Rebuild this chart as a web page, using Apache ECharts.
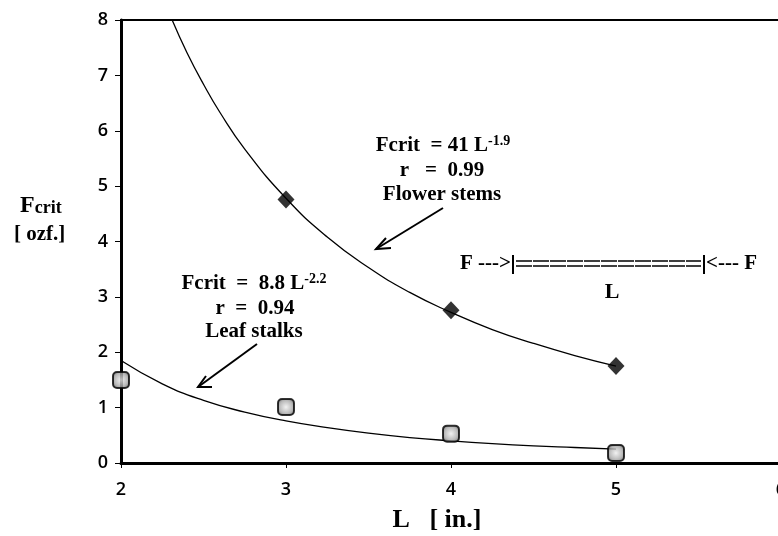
<!DOCTYPE html>
<html><head><meta charset="utf-8">
<script src="https://cdn.jsdelivr.net/npm/echarts@6/dist/echarts.min.js"></script>
<style>html,body{margin:0;padding:0;background:#fff}#c{width:778px;height:536px}</style>
</head><body><div id="c"></div>
<script>
// Measured points
var flowerX = [3, 4, 5];
var flowerY = [4.76, 2.76, 1.75];
var leafX = [2, 3, 4, 5];
var leafY = [1.50, 1.01, 0.53, 0.18];
// Trend curves
var flowerCurveX = [2.31, 2.4, 2.5, 2.6, 2.75, 3, 3.25, 3.5, 3.75, 4, 4.25, 4.5, 4.75, 5];
var flowerCurveY = [8.0, 7.41, 6.84, 6.33, 5.67, 4.78, 4.08, 3.53, 3.08, 2.72, 2.41, 2.16, 1.94, 1.75];
var leafCurveX = [2, 2.25, 2.5, 2.75, 3, 3.25, 3.5, 3.75, 4, 4.25, 4.5, 4.75, 5];
var leafCurveY = [1.85, 1.43, 1.13, 0.92, 0.76, 0.64, 0.54, 0.46, 0.40, 0.35, 0.31, 0.28, 0.25];
var xTicks = [2, 3, 4, 5, 6];
var yTicks = [0, 1, 2, 3, 4, 5, 6, 7, 8];

function pairs(xs, ys){ return xs.map(function(x,i){return [x, ys[i]];}); }

var chart = echarts.init(document.getElementById('c'));
var serif = '"Liberation Serif", "DejaVu Serif", serif';
var sans = '"Open Sans", "Liberation Sans", sans-serif';
var tStyle = {fontFamily: serif, fontWeight: 'bold', fontSize: 21, fill: '#000'};
var rich = {
  m: {fontFamily: serif, fontWeight: 'bold', fontSize: 21, fill: '#000'},
  s: {fontFamily: serif, fontWeight: 'bold', fontSize: 14, fill: '#000', padding: [0,0,10,0]}
};

chart.setOption({
  animation: false,
  backgroundColor: '#fff',
  grid: {left: 121, top: 20, width: 660, height: 443, outerBoundsMode: 'none', containLabel: false,
         show: true, borderColor: '#000', borderWidth: 2},
  xAxis: {
    type: 'value', min: xTicks[0], max: xTicks[xTicks.length-1], interval: 1,
    axisLine: {show: true, lineStyle: {color: '#000', width: 3}},
    axisTick: {show: true, length: 5, lineStyle: {color: '#000'}},
    axisLabel: {color: '#000', fontFamily: sans, fontSize: 18, fontWeight: 600, margin: 18},
    splitLine: {show: false}
  },
  yAxis: {
    type: 'value', min: yTicks[0], max: yTicks[yTicks.length-1], interval: 1,
    axisLine: {show: true, lineStyle: {color: '#000', width: 3}},
    axisTick: {show: true, length: 6, lineStyle: {color: '#000'}},
    axisLabel: {color: '#000', fontFamily: sans, fontSize: 18, fontWeight: 600, margin: 13},
    splitLine: {show: false}
  },
  series: [
    {type: 'line', data: pairs(flowerCurveX, flowerCurveY), smooth: true, showSymbol: false,
     lineStyle: {color: '#000', width: 1.3}, z: 2},
    {type: 'line', data: pairs(leafCurveX, leafCurveY), smooth: true, showSymbol: false,
     lineStyle: {color: '#000', width: 1.3}, z: 2},
    {type: 'scatter', data: pairs(flowerX, flowerY), symbol: 'diamond', symbolSize: [17, 18],
     itemStyle: {color: '#000'}, z: 3},
    {type: 'scatter', data: pairs(leafX, leafY), symbol: 'roundRect', symbolSize: 16,
     itemStyle: {color: {type: 'radial', x: 0.5, y: 0.5, r: 0.6,
       colorStops: [{offset: 0, color: '#eeeeee'}, {offset: 0.6, color: '#aaaaaa'}, {offset: 1, color: '#555'}]},
       borderColor: '#000', borderWidth: 2}, z: 3}
  ],
  graphic: [
    // y axis title
    {type: 'text', left: 20, top: 194, style: {text: '{a|F}{b|crit}', rich: {
      a: {fontFamily: serif, fontWeight: 'bold', fontSize: 24, fill: '#000'},
      b: {fontFamily: serif, fontWeight: 'bold', fontSize: 18, fill: '#000', padding: [4,0,0,0]}}}},
    {type: 'text', left: 14, top: 224, style: {text: '[ ozf.]', fontFamily: serif, fontWeight: 'bold', fontSize: 21, fill: '#000'}},
    // x axis title
    {type: 'text', x: 437, y: 520, style: {text: 'L   [ in.]', fontFamily: serif, fontWeight: 'bold', fontSize: 26, fill: '#000', align: 'center', verticalAlign: 'middle'}},
    // flower annotation
    {type: 'text', x: 443, y: 146, style: {text: '{m|Fcrit  = 41 L}{s|-1.9}', align: 'center', verticalAlign: 'middle', rich: rich}},
    {type: 'text', x: 442, y: 171, style: Object.assign({text: 'r   =  0.99', align: 'center', verticalAlign: 'middle'}, tStyle)},
    {type: 'text', x: 442, y: 195, style: Object.assign({text: 'Flower stems', align: 'center', verticalAlign: 'middle'}, tStyle)},
    // leaf annotation
    {type: 'text', x: 254, y: 284, style: {text: '{m|Fcrit  =  8.8 L}{s|-2.2}', align: 'center', verticalAlign: 'middle', rich: rich}},
    {type: 'text', x: 255, y: 309, style: Object.assign({text: 'r  =  0.94', align: 'center', verticalAlign: 'middle'}, tStyle)},
    {type: 'text', x: 254, y: 332, style: Object.assign({text: 'Leaf stalks', align: 'center', verticalAlign: 'middle'}, tStyle)},
    // arrows
    {type: 'line', shape: {x1: 443, y1: 208, x2: 376, y2: 249}, style: {stroke: '#000', lineWidth: 2}},
    {type: 'polyline', shape: {points: [[386, 238], [376, 249], [391, 248]]}, style: {stroke: '#000', lineWidth: 2, fill: null}},
    {type: 'line', shape: {x1: 257, y1: 344, x2: 198, y2: 387}, style: {stroke: '#000', lineWidth: 2}},
    {type: 'polyline', shape: {points: [[206, 376], [198, 387], [212, 387]]}, style: {stroke: '#000', lineWidth: 2, fill: null}},
    // F ---> |====| <--- F diagram
    {type: 'text', x: 511, y: 264, style: {text: 'F --->', fontFamily: serif, fontWeight: 'bold', fontSize: 21, fill: '#000', align: 'right', verticalAlign: 'middle'}},
    {type: 'text', x: 706, y: 264, style: {text: '<--- F', fontFamily: serif, fontWeight: 'bold', fontSize: 21, fill: '#000', align: 'left', verticalAlign: 'middle'}},
    {type: 'line', shape: {x1: 513, y1: 255, x2: 513, y2: 274}, style: {stroke: '#000', lineWidth: 2}},
    {type: 'line', shape: {x1: 704, y1: 255, x2: 704, y2: 274}, style: {stroke: '#000', lineWidth: 2}},
    {type: 'line', shape: {x1: 516, y1: 261, x2: 701, y2: 261}, style: {stroke: '#000', lineWidth: 1.5, lineDash: [16, 1]}},
    {type: 'line', shape: {x1: 516, y1: 266, x2: 701, y2: 266}, style: {stroke: '#000', lineWidth: 1.5, lineDash: [16, 1]}},
    {type: 'text', x: 612, y: 292, style: {text: 'L', fontFamily: serif, fontWeight: 'bold', fontSize: 22, fill: '#000', align: 'center', verticalAlign: 'middle'}}
  ]
});
</script></body></html>
